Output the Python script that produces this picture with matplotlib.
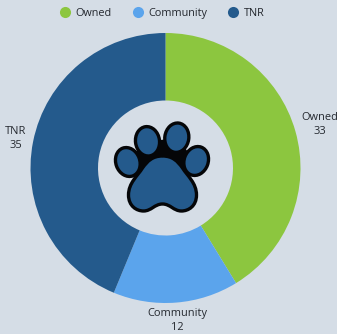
import numpy as np
import matplotlib
matplotlib.use('Agg')
import matplotlib.pyplot as plt
from matplotlib.patches import Ellipse, PathPatch
from matplotlib.path import Path
from matplotlib.lines import Line2D

categories = ['Owned', 'Community', 'TNR']
values = [33, 12, 35]
colors = ['#8cc63f', '#5ba4ec', '#245a8c']

BG = '#d5dde6'
TEXT = '#23272e'
W, H = 337, 334
CX, CY = 165.5, H - 168
R = 135
HOLE = 67.5

plt.rcParams['font.family'] = ['Open Sans', 'DejaVu Sans']

fig = plt.figure(figsize=(W / 100, H / 100), dpi=100, facecolor=BG)
ax = fig.add_axes([0, 0, 1, 1])

wedges, _ = ax.pie(values, colors=colors, startangle=90, counterclock=False,
                   center=(CX, CY), radius=R,
                   wedgeprops=dict(width=R - HOLE, linewidth=0))
ax.set_xlim(0, W)
ax.set_ylim(0, H)
ax.set_aspect('equal')
ax.axis('off')

# labels sit just outside the ring, at each slice's mid angle
label_radius = [160, 153, 153]
for wedge, cat, val, lr in zip(wedges, categories, values, label_radius):
    mid = np.radians((wedge.theta1 + wedge.theta2) / 2)
    ax.text(CX + lr * np.cos(mid), CY + lr * np.sin(mid), f'{cat}\n{val}',
            ha='center', va='center', fontsize=7.9, color=TEXT, linespacing=1.35)

# legend
handles = [Line2D([], [], linestyle='', marker='o', markersize=8,
                  markerfacecolor=c, markeredgewidth=0, label=n)
           for c, n in zip(colors, categories)]
ax.legend(handles=handles, loc='upper center', bbox_to_anchor=(0.473, 1.005),
          ncol=3, frameon=False, fontsize=7.8, labelcolor=TEXT,
          handletextpad=-0.05, columnspacing=1.4)

# paw icon in the hole, coordinates are px relative to the hole centre
NAVY = colors[2]
BLACK = '#050608'
LW = 2.4
toes = [(-37.7, 6, 24, 29.5, 20), (-18, 26.7, 24, 29.5, 8),
        (11.3, 30.3, 24, 29.5, -8), (30.7, 7, 24, 29.5, -20)]

# black webbing between the toes and the pad
web = Path([(CX - 31, CY + 14), (CX - 22, CY + 26), (CX + 12, CY + 30),
            (CX + 24, CY + 14), (CX + 18, CY - 4), (CX - 25, CY - 4),
            (CX - 31, CY + 14)], closed=True)
ax.add_patch(PathPatch(web, facecolor=BLACK, edgecolor='none', zorder=3))

for x, y, w, h, a in toes:
    ax.add_patch(Ellipse((CX + x, CY + y), w, h, angle=a, facecolor=NAVY,
                         edgecolor=BLACK, linewidth=LW, zorder=4))

C4 = Path.CURVE4
half = [(-10, 12), (-15, 7), (-20, 0),
        (-25, -8), (-34, -15), (-34, -27),
        (-34, -38), (-26, -43), (-19, -43),
        (-11, -43), (-8, -36), (0, -36)]
mirror = [(-x, y) for x, y in half[-2::-1]] + [(0, 12)]
pad_verts = [(0, 12)] + half + mirror
pad_codes = [Path.MOVETO] + [C4] * (len(pad_verts) - 1)
pad = Path([(CX - 3 + x, CY + y) for x, y in pad_verts], pad_codes)
ax.add_patch(PathPatch(pad, facecolor=NAVY, edgecolor=BLACK, linewidth=LW, zorder=5))

fig.savefig('out.png', dpi=100, facecolor=BG)
